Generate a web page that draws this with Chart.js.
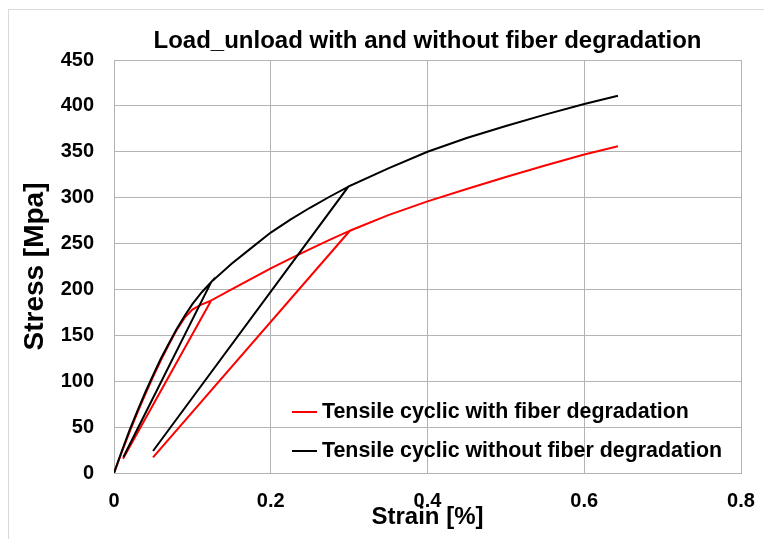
<!DOCTYPE html>
<html>
<head>
<meta charset="utf-8">
<title>Load_unload with and without fiber degradation</title>
<script src="https://cdn.jsdelivr.net/npm/chart.js@4.4.1/dist/chart.umd.min.js"></script>
<style>
  body { margin: 0; background: #ffffff; }
  canvas { display: block; }
</style>
</head>
<body>
<canvas id="cyclic-chart" width="764" height="539"></canvas>
<script>
// Strain [%] and stress [MPa] for the two cyclic tensile runs.
// Each run: load, unload, reload, load further, unload, reload, load to the end.
const degradedStrain = [0, 0.01, 0.02, 0.03, 0.04, 0.05, 0.06, 0.07, 0.08, 0.09, 0.1, 0.11, 0.124,
  0.0115, 0.124,
  0.15, 0.175, 0.2, 0.225, 0.25, 0.275, 0.301,
  0.0498, 0.301,
  0.35, 0.4, 0.45, 0.5, 0.55, 0.6, 0.643];
const degradedStress = [0, 23, 45, 66, 86, 105, 123, 140, 156, 169, 178, 183, 188,
  15.5, 188,
  200, 211.5, 223, 233.5, 244, 254, 264,
  17, 264,
  281, 296, 309.5, 322.5, 335, 347, 356];

const intactStrain = [0, 0.01, 0.02, 0.03, 0.04, 0.05, 0.06, 0.07, 0.08, 0.09, 0.1, 0.112, 0.124,
  0.012, 0.124,
  0.15, 0.175, 0.2, 0.225, 0.25, 0.275, 0.299,
  0.0498, 0.299,
  0.35, 0.4, 0.45, 0.5, 0.55, 0.6, 0.643];
const intactStress = [0, 24, 47, 68, 88, 107, 125, 141, 157, 171, 184, 197, 208,
  17.5, 208,
  228, 245, 262, 276, 289, 301, 312,
  24, 312,
  332, 350, 365, 378, 390.5, 402, 411];

const seriesLabels = ['Tensile cyclic with fiber degradation', 'Tensile cyclic without fiber degradation'];
const seriesColors = ['#ff0000', '#000000'];

const strainRange = [0, 0.8];
const strainStep = 0.2;
const stressRange = [0, 450];
const stressStep = 50;

const chartTitle = 'Load_unload with and without fiber degradation';

const FONT = "'Liberation Sans', Arial, sans-serif";
const GRID = '#b3b3b3';

function toPoints(xs, ys) {
  return xs.map((x, i) => ({ x: x, y: ys[i] }));
}

// white page, thin chart-area frame and the title centred over the plot
const chartFrame = {
  id: 'chartFrame',
  beforeDraw(chart) {
    const ctx = chart.ctx;
    const area = chart.chartArea;
    ctx.save();
    ctx.fillStyle = '#ffffff';
    ctx.fillRect(0, 0, chart.width, chart.height);
    ctx.strokeStyle = '#d9d9d9';
    ctx.lineWidth = 1;
    ctx.strokeRect(8.5, 9.5, chart.width + 20, chart.height + 20);
    ctx.fillStyle = '#000000';
    ctx.font = 'bold 24px ' + FONT;
    ctx.textAlign = 'center';
    ctx.textBaseline = 'middle';
    ctx.fillText(chartTitle, (area.left + area.right) / 2, 41);
    ctx.restore();
  }
};

// legend drawn inside the plot, bottom right
const innerLegend = {
  id: 'innerLegend',
  afterDatasetsDraw(chart) {
    const ctx = chart.ctx;
    const area = chart.chartArea;
    const x0 = area.left + 178;
    const rows = [area.bottom - 61, area.bottom - 22];
    ctx.save();
    ctx.font = 'bold 21.4px ' + FONT;
    ctx.textBaseline = 'middle';
    ctx.textAlign = 'left';
    chart.data.datasets.forEach((ds, i) => {
      const y = rows[i];
      ctx.strokeStyle = ds.borderColor;
      ctx.lineWidth = 2;
      ctx.beginPath();
      ctx.moveTo(x0, y);
      ctx.lineTo(x0 + 25, y);
      ctx.stroke();
      ctx.fillStyle = '#000000';
      ctx.fillText(ds.label, x0 + 30, y);
    });
    ctx.restore();
  }
};

const ctx = document.getElementById('cyclic-chart').getContext('2d');
new Chart(ctx, {
  type: 'scatter',
  data: {
    datasets: [
      {
        label: seriesLabels[0],
        data: toPoints(degradedStrain, degradedStress),
        borderColor: seriesColors[0],
        backgroundColor: seriesColors[0],
        showLine: true,
        borderWidth: 2,
        pointRadius: 0,
        tension: 0,
        order: 1
      },
      {
        label: seriesLabels[1],
        data: toPoints(intactStrain, intactStress),
        borderColor: seriesColors[1],
        backgroundColor: seriesColors[1],
        showLine: true,
        borderWidth: 2,
        pointRadius: 0,
        tension: 0,
        order: 0
      }
    ]
  },
  options: {
    responsive: false,
    animation: false,
    layout: { padding: { left: 0, right: 23, top: 60, bottom: 0 } },
    plugins: {
      legend: { display: false },
      tooltip: { enabled: false },
      title: { display: false }
    },
    scales: {
      x: {
        type: 'linear',
        min: strainRange[0],
        max: strainRange[1],
        afterFit(scale) {
          scale.height = 66;
          scale.paddingLeft = 0;
          scale.paddingRight = 0;
        },
        ticks: {
          stepSize: strainStep,
          color: '#000000',
          padding: 16,
          font: { family: FONT, size: 20, weight: 'bold' },
          callback: v => String(+v.toFixed(1))
        },
        grid: { color: GRID, drawTicks: false },
        border: { color: GRID },
        title: {
          display: true,
          text: 'Strain [%]',
          color: '#000000',
          font: { family: FONT, size: 24, weight: 'bold' },
          padding: 7
        }
      },
      y: {
        type: 'linear',
        min: stressRange[0],
        max: stressRange[1],
        afterFit(scale) { scale.width = 114; },
        ticks: {
          stepSize: stressStep,
          color: '#000000',
          padding: 20,
          font: { family: FONT, size: 20, weight: 'bold' }
        },
        grid: { color: GRID, drawTicks: false },
        border: { color: GRID },
        title: {
          display: true,
          text: 'Stress [Mpa]',
          color: '#000000',
          font: { family: FONT, size: 28, weight: 'bold' },
          padding: 18
        }
      }
    }
  },
  plugins: [chartFrame, innerLegend]
});
</script>
</body>
</html>
